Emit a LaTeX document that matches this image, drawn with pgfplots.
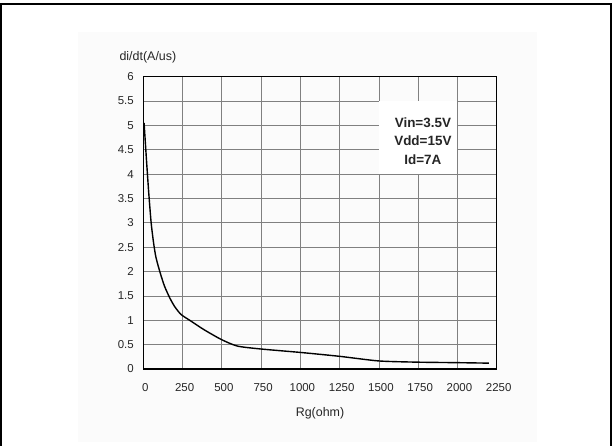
\documentclass[border=0pt]{standalone}
\usepackage{fontspec}
\setmainfont{Liberation Sans}
\usepackage{pgfplots}
\pgfplotsset{compat=1.18}
\begin{document}
\begin{tikzpicture}[x=1bp,y=1bp]
\path[use as bounding box] (0,0) rectangle (615,446);
\fill[black!1.5] (78,4) rectangle (537,414);
\draw[line width=2bp] (1,0) -- (1,441.5) -- (611,441.5) -- (611,0);
\begin{axis}[
  at={(143.3bp,77bp)}, anchor=south west, scale only axis,
  width=353.4bp, height=292.3bp,
  xmin=0, xmax=2250, ymin=0, ymax=6,
  xtick={0,250,...,2250}, ytick={0,0.5,...,6},
  grid=major, grid style={black!50, line width=0.8bp},
  axis line style={line width=1.2bp, black},
  tick style={draw=none},
  /pgf/number format/.cd, 1000 sep={}, assume math mode=true, /pgfplots/.cd,
  ticklabel style={font=\fontsize{11.5}{12}\selectfont, text=black!85},
  xticklabel style={yshift=-11bp, xshift=2bp},
  yticklabel style={xshift=-6bp},
  xlabel={Rg(ohm)}, ylabel={di/dt(A/us)},
  every axis x label/.style={at={(axis description cs:0.5,0)}, anchor=center, yshift=-44bp, font=\fontsize{12.5}{13}\selectfont, text=black!85},
  every axis y label/.style={at={(axis description cs:0,1)}, anchor=west, xshift=-27.3bp, yshift=19.4bp, font=\fontsize{12.5}{13}\selectfont, text=black!85},
]
\addplot[black, line width=1.4bp, smooth, tension=0.4] coordinates {
(5,5.05) (20,4.3) (35,3.6) (50,3.0) (65,2.6) (80,2.3) (105,2.0) (135,1.7)
(170,1.45) (200,1.28) (240,1.12) (300,0.99) (390,0.8) (500,0.6) (600,0.47)
(750,0.41) (1000,0.34) (1250,0.26) (1500,0.165) (1750,0.14) (2000,0.13) (2200,0.12)
};
\fill[white] (axis cs:1500,4.0) rectangle (axis cs:2000,5.5);
\node[font=\fontsize{13.5}{18.7}\selectfont\bfseries, align=center, text=black!85] at (axis cs:1780,4.68) {Vin=3.5V\\Vdd=15V\\Id=7A};
\end{axis}
\end{tikzpicture}
\end{document}
